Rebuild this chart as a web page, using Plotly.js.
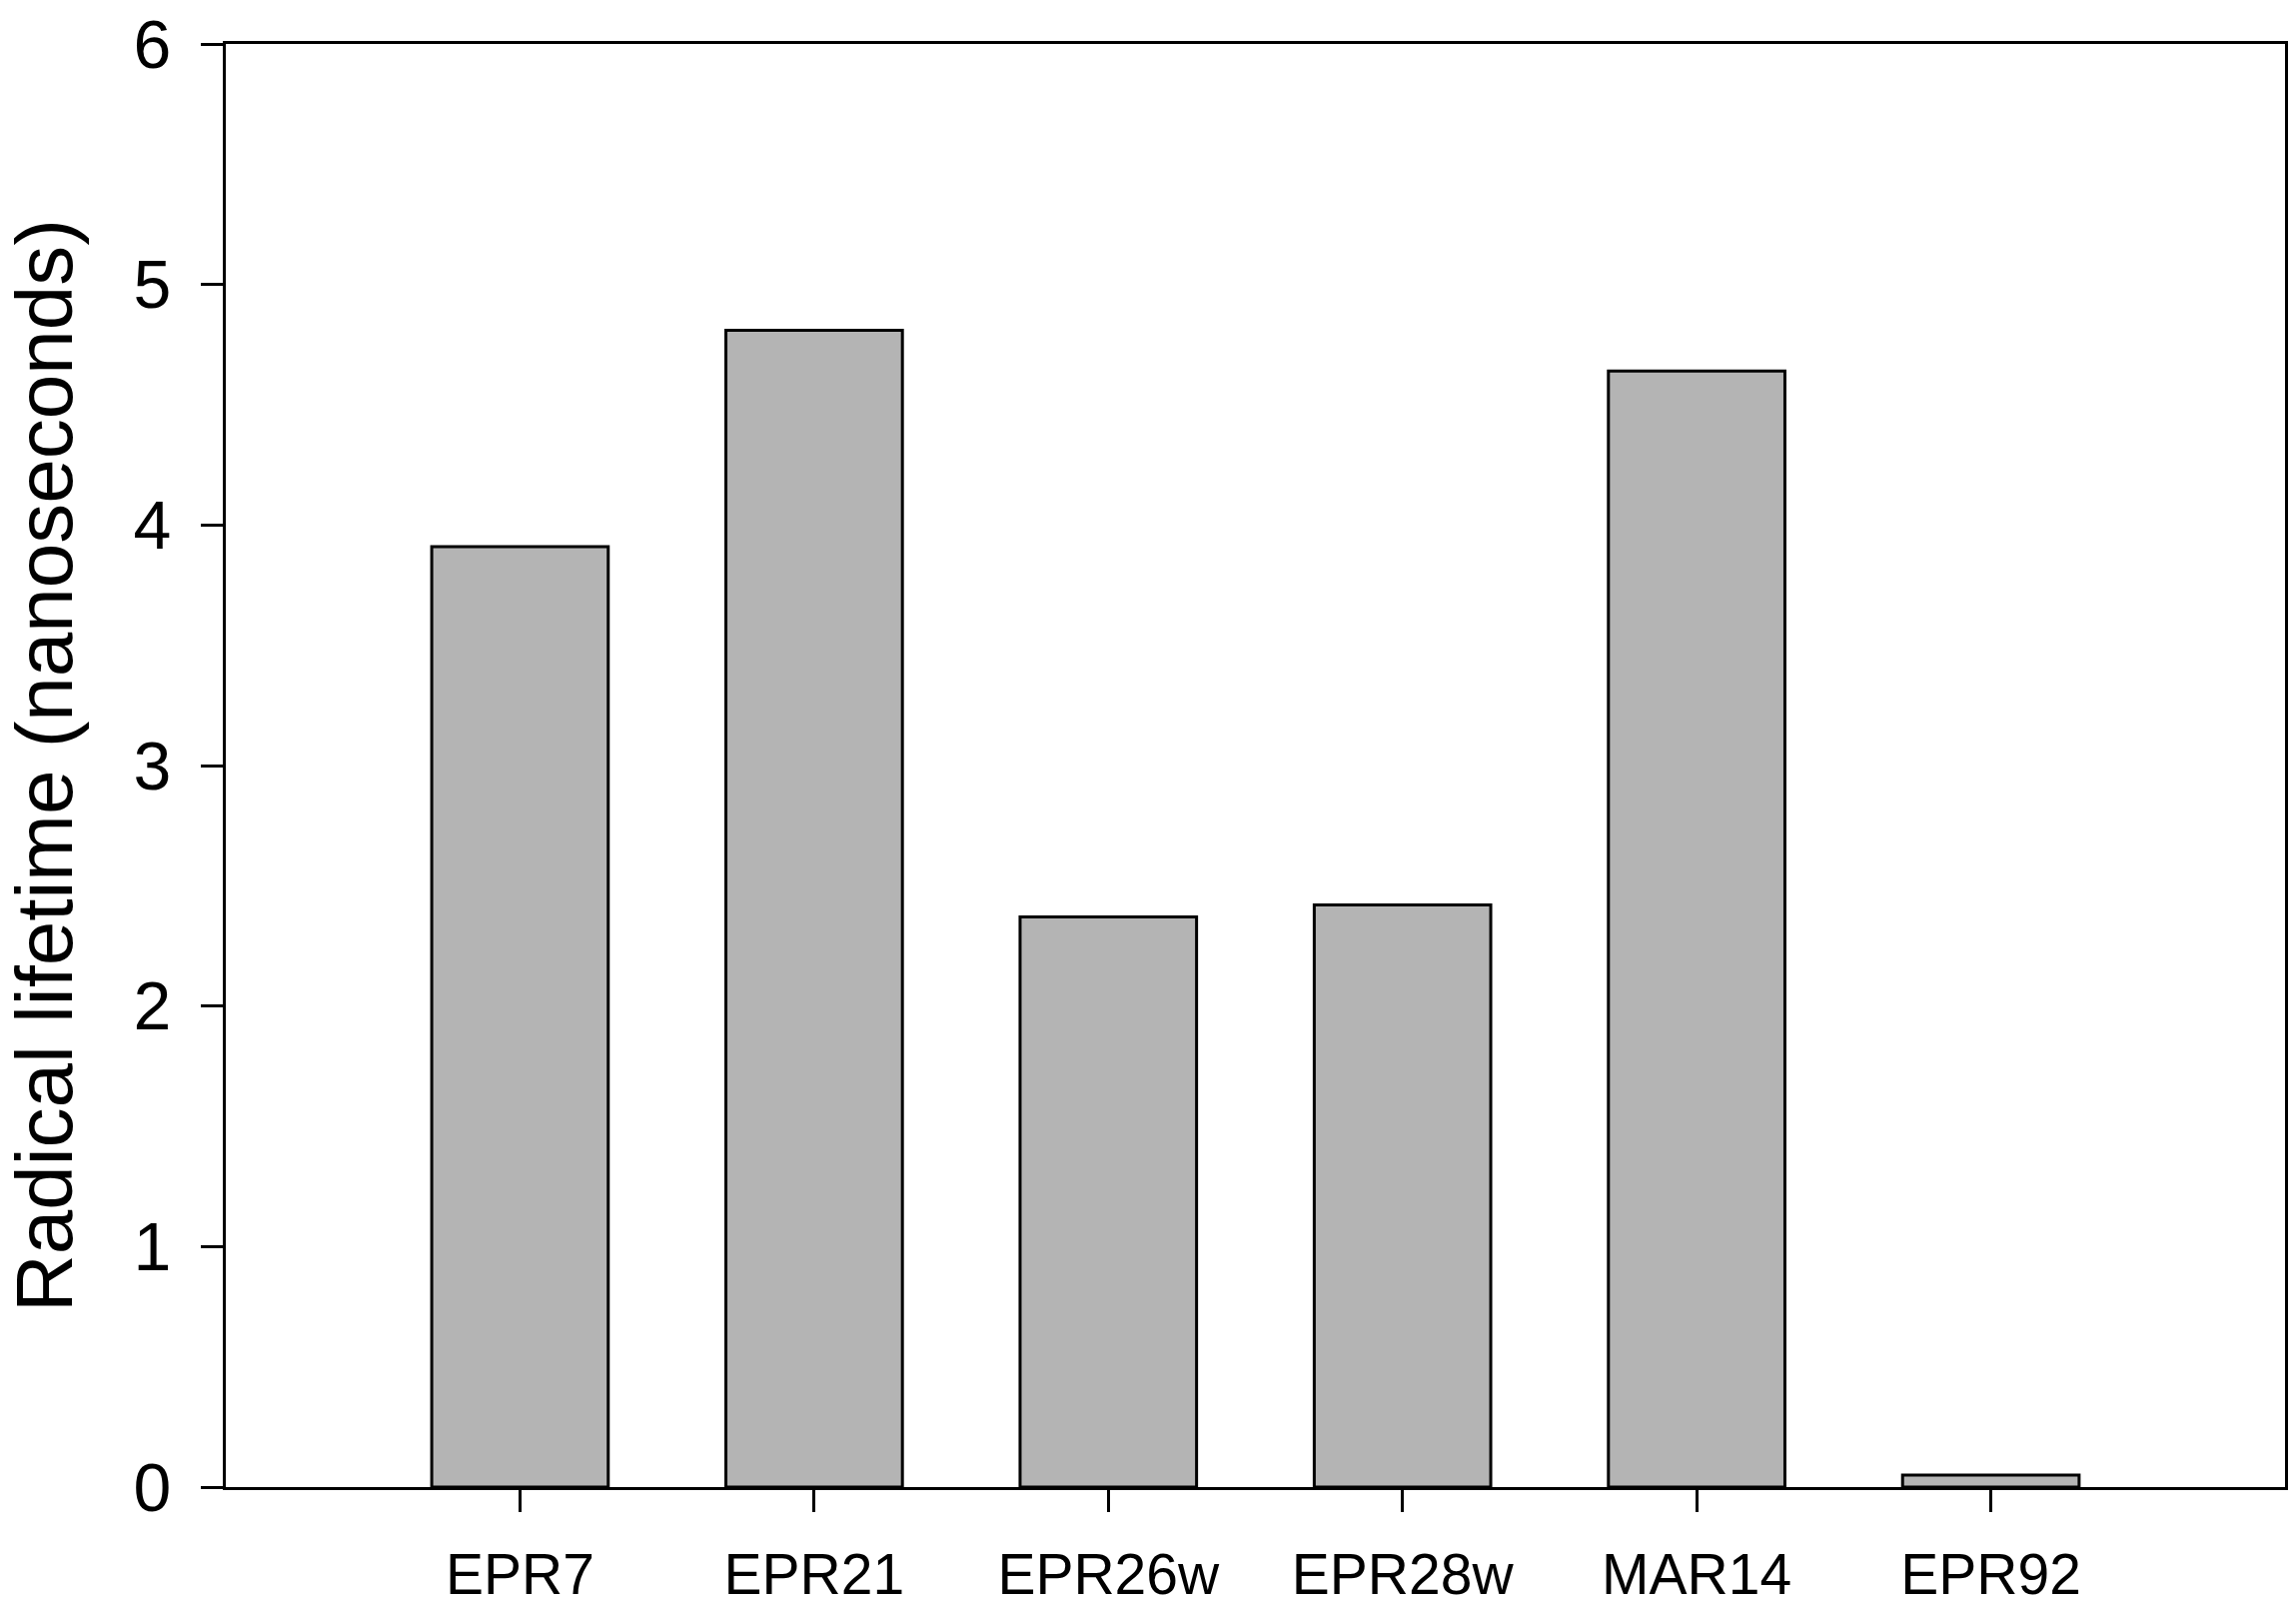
<!DOCTYPE html>
<html>
<head>
<meta charset="utf-8">
<script src="https://cdn.plot.ly/plotly-3.0.1.min.js"></script>
<style>html,body{margin:0;padding:0;background:#fff;}#chart{width:2298px;height:1609px;}</style>
</head>
<body>
<div id="chart"></div>
<script>
const categories = ["EPR7", "EPR21", "EPR26w", "EPR28w", "MAR14", "EPR92"];
const lifetimes = [3.91, 4.81, 2.37, 2.42, 4.64, 0.05];
const yTickValues = [0, 1, 2, 3, 4, 5, 6];
const yTitle = "Radical lifetime (nanoseconds)";

const FONT = "Liberation Sans, Arial, sans-serif";

const trace = {
  type: "bar",
  x: categories,
  y: lifetimes,
  marker: { color: "#b4b4b4", line: { color: "#000000", width: 3 } },
  hoverinfo: "x+y"
};

const layout = {
  width: 2298,
  height: 1609,
  paper_bgcolor: "#ffffff",
  plot_bgcolor: "#ffffff",
  margin: { l: 226, r: 11, t: 44, b: 121, autoexpand: false },
  bargap: 0.4,
  showlegend: false,
  font: { family: FONT, color: "#000000" },
  xaxis: {
    type: "category",
    range: [-1, 6],
    showgrid: false,
    zeroline: false,
    showline: true,
    linecolor: "#000000",
    linewidth: 3,
    mirror: true,
    ticks: "outside",
    ticklen: 22,
    tickwidth: 3,
    tickcolor: "#000000",
    tickfont: { family: FONT, size: 57, color: "#000000" },
    ticklabelstandoff: 14,
    automargin: false
  },
  yaxis: {
    range: [0, 6],
    tickvals: yTickValues,
    ticktext: yTickValues.map(String),
    showgrid: false,
    zeroline: false,
    showline: true,
    linecolor: "#000000",
    linewidth: 3,
    mirror: true,
    ticks: "outside",
    ticklen: 22,
    tickwidth: 3,
    tickcolor: "#000000",
    tickfont: { family: FONT, size: 68, color: "#000000" },
    ticklabelstandoff: 16,
    automargin: false,
    title: { text: yTitle, font: { family: FONT, size: 80, color: "#000000" }, standoff: 36 }
  }
};

Plotly.newPlot("chart", [trace], layout, { displayModeBar: false, staticPlot: true });
</script>
</body>
</html>
